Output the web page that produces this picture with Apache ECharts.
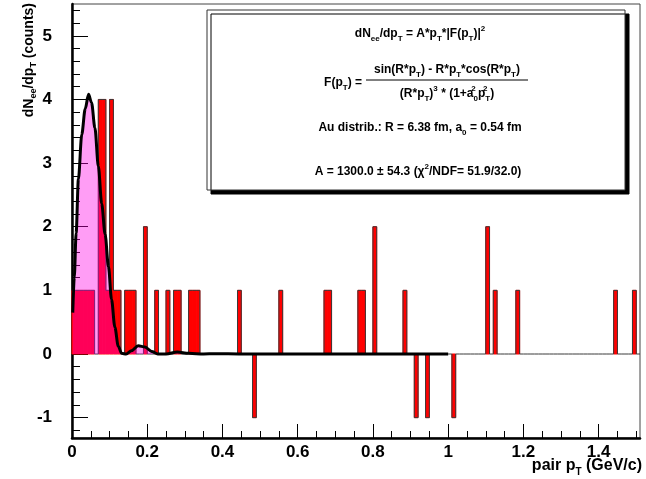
<!DOCTYPE html>
<html>
<head>
<meta charset="utf-8">
<script src="https://cdn.jsdelivr.net/npm/echarts@6/dist/echarts.min.js"></script>
<style>
  html, body { margin: 0; padding: 0; background: #fff; }
  #chart { width: 646px; height: 479px; }
</style>
</head>
<body>
<div id="chart"></div>
<script>
// histogram: bin start (GeV/c) and counts, bin width 0.01
const BIN = 0.01
const binStarts = [0.00, 0.01, 0.02, 0.03, 0.04, 0.05, 0.07, 0.08, 0.09, 0.10, 0.11, 0.12,
  0.14, 0.15, 0.16, 0.19, 0.22, 0.25, 0.27, 0.28, 0.31, 0.32, 0.33, 0.44, 0.48, 0.55,
  0.67, 0.68, 0.76, 0.77, 0.80, 0.88, 0.91, 0.94, 1.01, 1.10, 1.12, 1.18, 1.44, 1.49]
const binCounts = [1, 1, 1, 1, 1, 1, 4, 4, 1, 4, 1, 1,
  1, 1, 1, 2, 1, 1, 1, 1, 1, 1, 1, 1, -1, 1,
  1, 1, 1, 1, 2, 1, -1, -1, -1, 2, 1, 1, 1, 1]

// fit curve
const fitX = [0.002, 0.006, 0.011, 0.017, 0.026, 0.035, 0.044, 0.052, 0.061, 0.070, 0.079,
  0.088, 0.097, 0.105, 0.114, 0.123, 0.132, 0.144, 0.158, 0.176, 0.194, 0.212, 0.228,
  0.25, 0.28, 0.31, 0.35, 0.38, 0.45, 0.6, 0.8, 1.0]
const fitY = [0.65, 1.2, 1.9, 2.75, 3.45, 3.85, 4.08, 3.95, 3.55, 2.95, 2.36,
  1.88, 1.37, 0.86, 0.42, 0.12, 0.01, 0.0, 0.05, 0.13, 0.11, 0.04, 0.0,
  0.0, 0.03, 0.01, 0.0, 0.005, 0.0, 0.0, 0.0, 0.0]

const W = 646, H = 479
const X_MIN = 0, X_MAX = 1.51, Y_MIN = -1.32, Y_MAX = 5.5
const G = { left: 72, right: 6, top: 4, bottom: 41 }
const pxX = (W - G.left - G.right) / (X_MAX - X_MIN)
const pxY = (H - G.top - G.bottom) / (Y_MAX - Y_MIN)
// grids lined up with the main one, used only for ticks that start on round values
function subGrid(x1, y0, y1) {
  return {
    left: G.left,
    right: W - G.left - x1 * pxX,
    top: G.top + (Y_MAX - y1) * pxY,
    bottom: G.bottom + (y0 - Y_MIN) * pxY
  }
}
const gMinor = subGrid(1.5, -1.2, 5.4)
const gMajor = subGrid(1.4, -1, 5)

// histogram outline (ROOT draws one outline round the whole histogram)
const nBins = Math.round((X_MAX - X_MIN) / BIN)
const allCounts = new Array(nBins).fill(0)
binStarts.forEach((x, i) => { allCounts[Math.round(x / BIN)] = binCounts[i] })
const outline = allCounts.map((c, i) => [i * BIN, c])
outline.push([X_MAX, 0])

const FONT = "'Liberation Sans', Arial, Helvetica, sans-serif"
const lbl = { fontFamily: FONT, fontWeight: 'bold', fontSize: 17, color: '#000' }
const rich = {
  b: { fontFamily: FONT, fontWeight: 'bold', fontSize: 12, lineHeight: 18, fill: '#000', color: '#000' },
  s: { fontFamily: FONT, fontWeight: 'bold', fontSize: 8, lineHeight: 9, verticalAlign: 'bottom', fill: '#000', color: '#000' },
  p: { fontFamily: FONT, fontWeight: 'bold', fontSize: 8, lineHeight: 9, verticalAlign: 'top', fill: '#000', color: '#000' },
  pz: { fontFamily: FONT, fontWeight: 'bold', fontSize: 8, lineHeight: 9, verticalAlign: 'top', width: 0.01, fill: '#000', color: '#000' }
}
const richBig = {
  b: { fontFamily: FONT, fontWeight: 'bold', fontSize: 16, lineHeight: 22, fill: '#000' },
  s: { fontFamily: FONT, fontWeight: 'bold', fontSize: 10, lineHeight: 11, verticalAlign: 'bottom', fill: '#000' }
}
const richY = {
  b: { fontFamily: FONT, fontWeight: 'bold', fontSize: 14, lineHeight: 19, fill: '#000' },
  s: { fontFamily: FONT, fontWeight: 'bold', fontSize: 9, lineHeight: 10, verticalAlign: 'bottom', fill: '#000' }
}

function txt(x, y, text, r, align, rot) {
  return {
    type: 'text', x: x, y: y, rotation: rot || 0, z: 100,
    style: { text: text, rich: r, align: align || 'center', verticalAlign: 'middle',
      textAlign: align || 'center', textVerticalAlign: 'middle' }
  }
}

const chart = echarts.init(document.getElementById('chart'))

const hidden = { show: false }
chart.setOption({
  animation: false,
  grid: [
    Object.assign({ show: true, borderColor: '#444', borderWidth: 1 }, G),
    gMinor,
    gMajor
  ],
  xAxis: [
    { type: 'value', gridIndex: 0, min: X_MIN, max: X_MAX, splitLine: hidden, axisTick: hidden, axisLabel: hidden,
      axisLine: { onZero: false, lineStyle: { color: '#000', width: 2.5 } } },
    { type: 'value', gridIndex: 1, min: 0, max: 1.5, interval: 0.05, offset: gMinor.bottom - G.bottom,
      splitLine: hidden, axisLabel: hidden, axisLine: { show: false, onZero: false },
      axisTick: { inside: true, length: 7, lineStyle: { color: '#000', width: 1 } } },
    { type: 'value', gridIndex: 2, min: 0, max: 1.4, interval: 0.2, offset: gMajor.bottom - G.bottom,
      splitLine: hidden, axisLine: { show: false, onZero: false },
      axisTick: { inside: true, length: 14, lineStyle: { color: '#000', width: 1 } },
      axisLabel: Object.assign({ margin: 6 }, lbl) }
  ],
  yAxis: [
    { type: 'value', gridIndex: 0, min: Y_MIN, max: Y_MAX, splitLine: hidden, axisTick: hidden, axisLabel: hidden,
      axisLine: { show: true, onZero: false, lineStyle: { color: '#000', width: 2.5 } } },
    { type: 'value', gridIndex: 1, min: -1.2, max: 5.4, interval: 0.2,
      splitLine: hidden, axisLabel: hidden, axisLine: { show: false, onZero: false },
      axisTick: { show: true, inside: true, length: 8, lineStyle: { color: '#000', width: 1 } } },
    { type: 'value', gridIndex: 2, min: -1, max: 5, interval: 1,
      splitLine: hidden, axisLine: { show: false, onZero: false },
      axisTick: { show: true, inside: true, length: 16, lineStyle: { color: '#000', width: 1 } },
      axisLabel: Object.assign({ margin: 20 }, lbl) }
  ],
  series: [
    {
      name: 'data', type: 'custom', xAxisIndex: 0, yAxisIndex: 0, z: 2,
      data: binStarts.map((x, i) => [x, binCounts[i]]),
      renderItem: function (params, api) {
        const x0 = api.value(0), v = api.value(1)
        const a = api.coord([x0, v])
        const b = api.coord([x0 + BIN, 0])
        return {
          type: 'rect',
          shape: { x: a[0], y: Math.min(a[1], b[1]), width: b[0] - a[0], height: Math.abs(b[1] - a[1]) },
          style: { fill: '#ff0000', stroke: '#ff0000', lineWidth: 1 }
        }
      }
    },
    {
      name: 'outline', type: 'line', xAxisIndex: 0, yAxisIndex: 0, z: 3, symbol: 'none', silent: true,
      step: 'end', data: outline,
      lineStyle: { color: '#3a3a3a', width: 1 }
    },
    {
      name: 'fit', type: 'line', xAxisIndex: 0, yAxisIndex: 0, z: 4, symbol: 'none',
      smooth: 0.3, smoothMonotone: 'x',
      data: fitX.map((x, i) => [x, fitY[i]]),
      lineStyle: { color: '#000', width: 3 },
      areaStyle: { color: 'rgba(255, 0, 230, 0.55)', origin: 0 }
    }
  ],
  graphic: [
    { type: 'rect', z: 90, shape: { x: 207, y: 10, width: 418, height: 180 },
      style: { fill: '#fff', stroke: '#333', lineWidth: 1, shadowColor: '#000', shadowOffsetX: 4, shadowOffsetY: 4, shadowBlur: 0 } },
    txt(420, 34, '{b|dN}{s|ee}{b|/dp}{s|T}{b| = A*p}{s|T}{b|*|F(p}{s|T}{b|)|}{p|2}', rich),
    txt(362, 83, '{b|F(p}{s|T}{b|) =}', rich, 'right'),
    txt(447, 70, '{b|sin(R*p}{s|T}{b|) - R*p}{s|T}{b|*cos(R*p}{s|T}{b|)}', rich),
    { type: 'line', z: 100, shape: { x1: 366, y1: 80, x2: 528, y2: 80 }, style: { stroke: '#000', lineWidth: 1 } },
    txt(447, 94, '{b|(R*p}{s|T}{b|)}{p|3}{b| * (1+a}{pz|2}{s|0}{b|p}{pz|2}{s|T}{b|)}', rich),
    txt(420, 128, '{b|Au distrib.: R = 6.38 fm, a}{s|0}{b| = 0.54 fm}', rich),
    txt(418, 172, '{b|A = 1300.0 \u00b1 54.3 (\u03c7}{p|2}{b|/NDF= 51.9/32.0)}', rich),
    txt(642, 466, '{b|pair p}{s|T}{b| (GeV/c)}', richBig, 'right'),
    txt(29, 3, '{b|dN}{s|ee}{b|/dp}{s|T}{b| (counts)}', richY, 'right', Math.PI / 2)
  ]
})
</script>
</body>
</html>
